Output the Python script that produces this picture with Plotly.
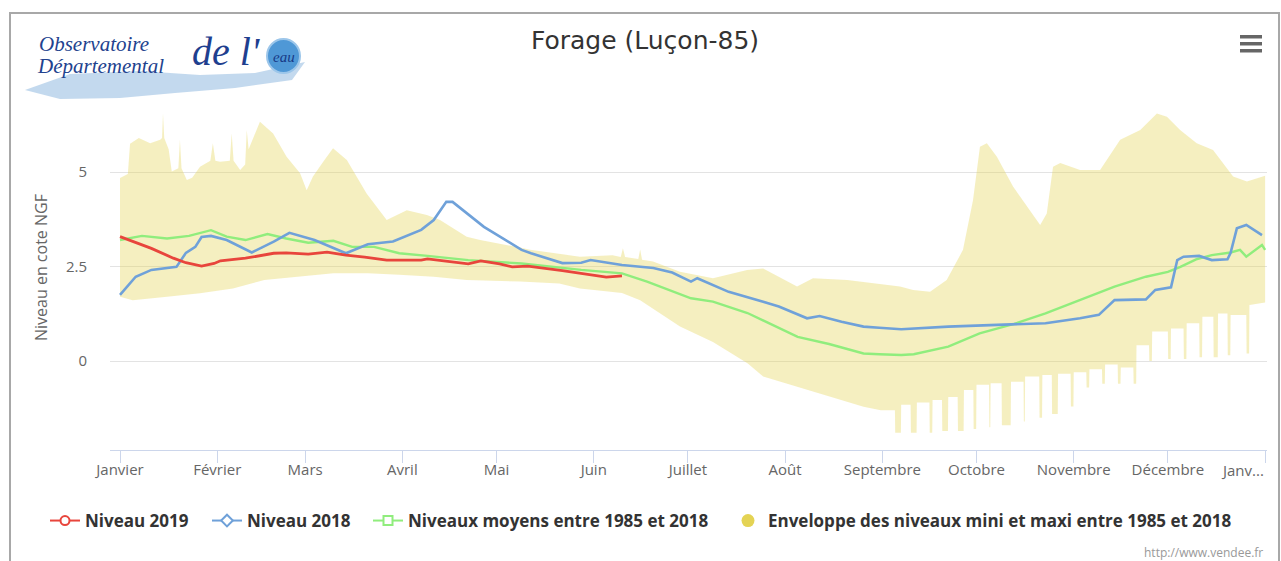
import plotly.graph_objects as go
import pandas as pd

# ---------------- data (day of year offset from 1 Jan 2019, value in m NGF) ----------------
month_ticks = ["2019-01-01", "2019-02-01", "2019-03-01", "2019-04-01", "2019-05-01", "2019-06-01",
               "2019-07-01", "2019-08-01", "2019-09-01", "2019-10-01", "2019-11-01", "2019-12-01",
               "2020-01-01"]
month_labels = ["Janvier", "Février", "Mars", "Avril", "Mai", "Juin", "Juillet", "Août",
                "Septembre", "Octobre", "Novembre", "Décembre", "Janv..."]

niveau_2019 = [(0, 3.29), (10, 2.98), (17, 2.72), (21, 2.60), (26, 2.51), (30, 2.58), (32, 2.65),
               (40, 2.72), (49, 2.85), (53, 2.86), (60, 2.83), (66, 2.88), (72, 2.80), (78, 2.75),
               (85, 2.67), (96, 2.67), (98, 2.70), (111, 2.57), (115, 2.65), (121, 2.57),
               (125, 2.49), (130, 2.51), (141, 2.39), (155, 2.22), (160, 2.25)]

niveau_2018 = [(0, 1.75), (5, 2.23), (10, 2.41), (18, 2.49), (21, 2.86), (24, 3.02), (26, 3.28),
               (29, 3.31), (34, 3.20), (42, 2.87), (49, 3.16), (54, 3.39), (62, 3.20), (72, 2.85),
               (79, 3.09), (87, 3.16), (96, 3.47), (100, 3.73), (104, 4.21), (106, 4.21),
               (116, 3.55), (128, 2.94), (131, 2.85), (141, 2.59), (147, 2.60), (150, 2.67),
               (160, 2.54), (170, 2.46), (176, 2.34), (182, 2.10), (184, 2.19), (194, 1.83),
               (205, 1.57), (210, 1.44), (219, 1.13), (223, 1.19), (230, 1.04), (237, 0.91),
               (242, 0.88), (249, 0.84), (264, 0.91), (279, 0.95), (295, 1.00), (306, 1.13),
               (312, 1.22), (317, 1.61), (327, 1.63), (330, 1.88), (335, 1.95), (337, 2.67),
               (339, 2.76), (344, 2.78), (348, 2.67), (353, 2.69), (354, 2.86), (356, 3.51),
               (359, 3.60), (364, 3.33)]

niveaux_moyens = [(0, 3.20), (7, 3.31), (15, 3.24), (22, 3.31), (29, 3.46), (34, 3.29), (40, 3.20),
                  (47, 3.36), (53, 3.24), (60, 3.13), (68, 3.18), (74, 3.02), (81, 3.02), (89, 2.85),
                  (98, 2.78), (111, 2.67), (128, 2.58), (147, 2.41), (160, 2.32), (168, 2.10),
                  (182, 1.66), (189, 1.57), (200, 1.27), (216, 0.64), (226, 0.45), (237, 0.20),
                  (242, 0.18), (249, 0.16), (253, 0.18), (264, 0.38), (274, 0.73), (285, 0.98),
                  (295, 1.26), (306, 1.61), (317, 1.97), (327, 2.23), (334, 2.36), (338, 2.49),
                  (343, 2.69), (348, 2.80), (354, 2.87), (357, 2.94), (359, 2.76), (364, 3.07),
                  (365, 2.94)]

enveloppe_max = [(0, 4.84), (2.5, 4.95), (3.2, 5.75), (6, 5.9), (9.6, 5.76), (12.8, 5.85),
                 (13.4, 5.9), (13.7, 6.55), (14.1, 5.9), (15.5, 5.6), (16.5, 5.01), (18.6, 5.1),
                 (19.1, 5.85), (19.6, 5.1), (21.3, 4.79), (23, 4.85), (25.5, 5.14), (28.8, 5.3),
                 (29.6, 5.76), (30.4, 5.3), (31.9, 5.27), (35, 5.3), (35.6, 6.02), (36.2, 5.3),
                 (38.3, 5.05), (39.9, 5.2), (40.4, 6.11), (41, 5.6), (44.6, 6.33), (48.8, 6.02),
                 (53.1, 5.4), (57.4, 4.97), (59.5, 4.52), (61.5, 4.88), (65, 5.3), (67.9, 5.63),
                 (72.3, 5.32), (78.6, 4.43), (85, 3.73), (91.4, 3.99), (97.8, 3.86), (102, 3.73),
                 (110.5, 3.29), (114.8, 3.2), (127.5, 3.0), (130.7, 2.94), (146.6, 2.76),
                 (157, 2.8), (159.6, 2.75), (160.3, 2.98), (161, 2.75), (165.2, 2.7), (165.8, 2.95),
                 (166.4, 2.68), (169.9, 2.63), (178.5, 2.36), (189, 2.19), (199.9, 2.41),
                 (205, 2.45), (215.8, 1.97), (220.9, 2.19), (231.8, 2.14), (248.6, 1.97),
                 (252.8, 1.88), (258.2, 1.83), (263.5, 2.14), (268.7, 2.94), (271.9, 4.26),
                 (274.1, 5.67), (276.3, 5.76), (279.5, 5.4), (284.7, 4.61), (293.3, 3.6),
                 (295.4, 3.9), (297.4, 5.14), (299.7, 5.24), (306, 5.05), (312.4, 5.05),
                 (318.8, 5.85), (325.2, 6.11), (330.5, 6.55), (333.7, 6.46), (337.9, 6.11),
                 (343.2, 5.76), (348.4, 5.58), (354.8, 4.88), (359.2, 4.75), (364, 4.88), (365, 4.9)]

enveloppe_min = [(0, 1.7), (4, 1.61), (15, 1.7), (25.5, 1.79), (36, 1.92), (46, 2.14), (57, 2.23),
                 (68, 2.32), (79, 2.32), (89, 2.28), (100, 2.23), (110.5, 2.14), (127.5, 2.1),
                 (140, 2.05), (146.6, 1.92), (160, 1.8), (165.8, 1.61), (178.5, 0.91), (189, 0.5),
                 (200, -0.06), (205, -0.41), (215.8, -0.68), (226, -0.94), (237, -1.21),
                 (242.5, -1.3),
                 (247, -1.3), (247.1, -1.9), (248.9, -1.9), (249, -1.16), (252, -1.16),
                 (252.1, -1.9), (253.9, -1.9), (254, -1.1), (258, -1.1), (258.1, -1.9),
                 (258.9, -1.9), (259, -1.03), (262, -1.03), (262.1, -1.85), (263.9, -1.85),
                 (264, -0.95), (267, -0.95), (267.1, -1.85), (268.9, -1.85), (269, -0.77),
                 (272, -0.77), (272.1, -1.8), (272.9, -1.8), (273, -0.63), (277, -0.63),
                 (277.1, -1.75), (277.4, -1.75), (277.5, -0.59), (281, -0.59), (281.1, -1.7),
                 (283.9, -1.7), (284, -0.55), (288, -0.55), (288.1, -1.6), (288.4, -1.6),
                 (288.5, -0.41), (293, -0.41), (293.1, -1.5), (293.9, -1.5), (294, -0.37),
                 (297, -0.37), (297.1, -1.4), (298.9, -1.4), (299, -0.34), (303, -0.34),
                 (303.1, -1.2), (303.9, -1.2), (304, -0.3), (308, -0.3), (308.1, -0.7),
                 (308.9, -0.7), (309, -0.22), (313, -0.22), (313.1, -0.6), (313.9, -0.6),
                 (314, -0.09), (318, -0.09), (318.1, -0.6), (318.9, -0.6), (319, -0.17),
                 (323, -0.17), (323.1, -0.6), (323.9, -0.6), (324, 0.42), (328, 0.42),
                 (328.1, 0.0), (328.9, 0.0), (329, 0.78), (334, 0.78), (334.1, 0.05),
                 (334.9, 0.05), (335, 0.86), (339, 0.86), (339.1, 0.05), (339.9, 0.05),
                 (340, 1.0), (344, 1.0), (344.1, 0.1), (344.9, 0.1), (345, 1.17), (348.5, 1.17),
                 (348.6, 0.1), (349.9, 0.1), (350, 1.26), (353, 1.26), (353.1, 0.15),
                 (353.9, 0.15), (354, 1.22), (359, 1.22), (359.1, 0.2), (359.9, 0.2),
                 (360, 1.48), (365, 1.55)]

series_names = ["Niveau 2019", "Niveau 2018", "Niveaux moyens entre 1985 et 2018",
                "Enveloppe des niveaux mini et maxi entre 1985 et 2018"]

# ---------------- helpers ----------------
BASE = pd.Timestamp("2019-01-01")


def dates(points):
    return [BASE + pd.Timedelta(days=d) for d, _ in points]


def vals(points):
    return [v for _, v in points]


W, H = 1281, 561
ML, MR, MT, MB = 110, 14, 90, 111
PW, PH = W - ML - MR, H - MT - MB


def px(x, y):
    """pixel -> paper coords (for decorations only)"""
    return (x - ML) / PW, (H - MB - y) / PH


RED, BLUE, GREEN, YELLOW = "#e8453c", "#6fa1d9", "#90ed7d", "#e4d354"
FONT = "Open Sans"

fig = go.Figure()

# envelope polygon (max forward, min backward)
env_x = dates(enveloppe_max) + dates(enveloppe_min)[::-1]
env_y = vals(enveloppe_max) + vals(enveloppe_min)[::-1]
fig.add_trace(go.Scatter(x=env_x, y=env_y, fill="toself", mode="lines",
                         line=dict(width=0), fillcolor="rgba(228,211,84,0.37)",
                         showlegend=False, hoverinfo="skip"))

fig.add_trace(go.Scatter(x=dates(niveaux_moyens), y=vals(niveaux_moyens), mode="lines",
                         line=dict(color=GREEN, width=2.4), showlegend=False))
fig.add_trace(go.Scatter(x=dates(niveau_2018), y=vals(niveau_2018), mode="lines",
                         line=dict(color=BLUE, width=2.6), showlegend=False))
fig.add_trace(go.Scatter(x=dates(niveau_2019), y=vals(niveau_2019), mode="lines",
                         line=dict(color=RED, width=2.8), showlegend=False))

# legend-only entries (one legend each, placed like the original)
leg_specs = [
    ("legend", series_names[0], RED, "circle", "lines+markers"),
    ("legend2", series_names[1], BLUE, "diamond", "lines+markers"),
    ("legend3", series_names[2], GREEN, "square", "lines+markers"),
    ("legend4", series_names[3], YELLOW, "circle", "markers"),
]
for lg, name, col, sym, mode in leg_specs:
    if mode == "markers":
        mk = dict(symbol=sym, size=13, color=col, line=dict(width=0))
    else:
        mk = dict(symbol=sym, size=9, color="white", line=dict(color=col, width=2))
    fig.add_trace(go.Scatter(x=[None], y=[None], mode=mode, name=name, legend=lg,
                             line=dict(color=col, width=2), marker=mk))

leg_text_x = [87, 249, 410, 770]
leg_common = dict(orientation="h", xref="container", yref="container", xanchor="left",
                  yanchor="middle", y=1 - 521 / H, bgcolor="rgba(0,0,0,0)", itemwidth=30,
                  font=dict(family=FONT, size=17, color="#333333", weight="bold"))
legends = {}
for key, tx in zip(["legend", "legend2", "legend3", "legend4"], leg_text_x):
    legends[key] = dict(leg_common, x=(tx - 42) / W)

# ---------------- decorations ----------------
shapes = []
# outer frame
x0, y0 = px(10, 13)
x1, y1 = px(1279, 600)
shapes.append(dict(type="rect", xref="paper", yref="paper", x0=x0, y0=y1, x1=x1, y1=y0,
                   line=dict(color="#a8a8a8", width=2), layer="below"))
# hamburger menu
for yy in (35, 42, 49):
    a0, b0 = px(1240, yy)
    a1, b1 = px(1262, yy + 3.5)
    shapes.append(dict(type="rect", xref="paper", yref="paper", x0=a0, y0=b1, x1=a1, y1=b0,
                       fillcolor="#666666", line=dict(width=0)))
# logo swoosh
sw = [(25, 90), (70, 74), (140, 71), (200, 75), (255, 73), (305, 62), (292, 80), (235, 88),
      (175, 93), (120, 98), (60, 99)]
path = "M " + " L ".join("{:.5f},{:.5f}".format(*px(a, b)) for a, b in sw) + " Z"
shapes.append(dict(type="path", xref="paper", yref="paper", path=path,
                   fillcolor="rgba(135,180,222,0.5)", line=dict(width=0), layer="below"))
cx0, cy0 = px(267, 39)
cx1, cy1 = px(300, 73)
shapes.append(dict(type="circle", xref="paper", yref="paper", x0=cx0, y0=cy1, x1=cx1, y1=cy0,
                   fillcolor="#4f98d6", line=dict(color="#9cc6ea", width=2)))

annotations = []


def ann(text, x, y, **kw):
    ax, ay = px(x, y)
    d = dict(text=text, x=ax, y=ay, xref="paper", yref="paper", showarrow=False)
    d.update(kw)
    annotations.append(d)


ann("<i>Observatoire</i>", 37, 44, xanchor="left", yanchor="middle",
    font=dict(family="Liberation Serif", size=21, color="#22428e"))
ann("<i>Départemental</i>", 35, 66, xanchor="left", yanchor="middle",
    font=dict(family="Liberation Serif", size=21, color="#22428e"))
ann("<i>de l'</i>", 190, 52, xanchor="left", yanchor="middle",
    font=dict(family="Liberation Serif", size=40, color="#1f3f8f"))
ann("<i>eau</i>", 284, 57, xanchor="center", yanchor="middle",
    font=dict(family="Liberation Serif", size=15, color="#173a86"))
ann("Niveau en cote NGF", 41, 268, xanchor="center", yanchor="middle", textangle=-90,
    font=dict(family=FONT, size=16, color="#666666"))
ann("http://www.vendee.fr", 1265, 552, xanchor="right", yanchor="middle",
    font=dict(family=FONT, size=12, color="#999999"))
# last month label is shifted left to stay inside the chart, as in the original
ann(month_labels[-1], 1266, 470, xanchor="right", yanchor="middle",
    font=dict(family=FONT, size=15, color="#666666"))

x_start = BASE + pd.Timedelta(days=-3.19)
x_end = BASE + pd.Timedelta(days=365.6)

fig.update_layout(
    width=W, height=H,
    margin=dict(l=ML, r=MR, t=MT, b=MB, pad=0),
    paper_bgcolor="white", plot_bgcolor="white",
    title=dict(text="Forage (Luçon-85)", x=645 / W, xref="container", xanchor="center",
               y=1 - 40 / H, yref="container", yanchor="middle",
               font=dict(family="DejaVu Sans", size=25, color="#333333")),
    xaxis=dict(type="date", range=[x_start, x_end], tickvals=month_ticks,
               ticktext=month_labels[:-1] + [""],
               showgrid=False, zeroline=False, showline=True, linecolor="#ccd6eb", linewidth=1,
               ticks="outside", ticklen=12, tickcolor="#ccd6eb", tickwidth=1,
               ticklabelstandoff=-6,
               tickfont=dict(family=FONT, size=15, color="#666666")),
    yaxis=dict(range=[-2.354, 7.169], tickvals=[0, 2.5, 5], ticktext=["0", "2.5", "5"],
               showgrid=True, gridcolor="#e3e3e3", gridwidth=1, zeroline=False, showline=False,
               ticks="", ticklabelstandoff=22,
               tickfont=dict(family=FONT, size=15, color="#666666")),
    shapes=shapes,
    annotations=annotations,
    hovermode=False,
    **legends,
)

fig.write_html("out.html", config={"displayModeBar": False},
               post_script="document.body.style.margin='0';document.body.style.overflow='hidden';")
